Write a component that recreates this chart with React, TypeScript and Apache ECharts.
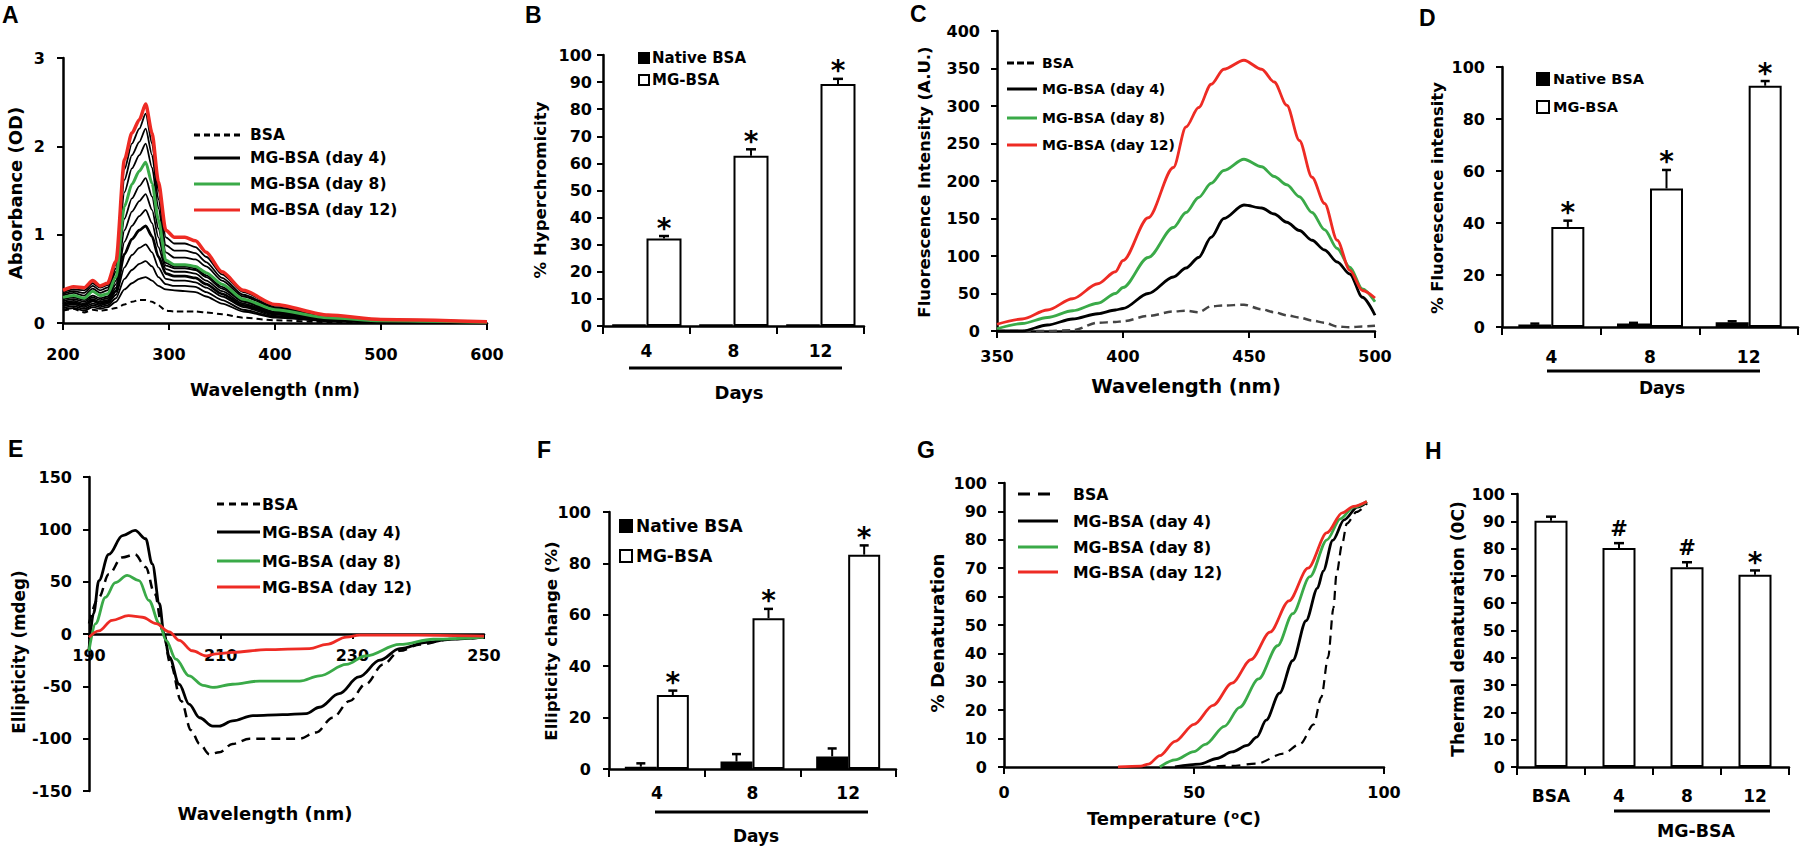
import React, { useEffect, useRef } from "react";
import * as echarts from "echarts";

const FONT = "DejaVu Sans";
const LETTER_FONT = "Liberation Sans";
const RED = "#ee2b24";
const GREEN = "#3aaa48";

// ---------- Panel A : UV absorbance ----------
const aWavelengths = [200, 210, 220, 228, 235, 242, 250, 258, 265, 272, 278, 284, 290, 297, 305, 315, 325, 335, 350, 370, 400, 450, 500, 600];
const aBsa = [0.14, 0.16, 0.12, 0.15, 0.14, 0.15, 0.17, 0.21, 0.24, 0.26, 0.26, 0.24, 0.2, 0.14, 0.13, 0.13, 0.13, 0.12, 0.1, 0.06, 0.03, 0.01, 0.005, 0.0];
const aTrace1 = [0.15, 0.17, 0.14, 0.18, 0.16, 0.18, 0.24, 0.38, 0.45, 0.5, 0.52, 0.48, 0.42, 0.38, 0.37, 0.36, 0.35, 0.3, 0.22, 0.13, 0.06, 0.02, 0.01, 0.0];
const aTrace2 = [0.17, 0.19, 0.16, 0.2, 0.18, 0.2, 0.28, 0.5, 0.6, 0.67, 0.7, 0.64, 0.52, 0.44, 0.42, 0.42, 0.41, 0.35, 0.26, 0.15, 0.07, 0.025, 0.01, 0.0];
const aTrace3 = [0.19, 0.21, 0.18, 0.22, 0.2, 0.22, 0.32, 0.63, 0.77, 0.85, 0.89, 0.8, 0.63, 0.5, 0.48, 0.48, 0.46, 0.4, 0.3, 0.18, 0.08, 0.03, 0.01, 0.0];
const aTrace4 = [0.21, 0.23, 0.2, 0.25, 0.22, 0.24, 0.36, 0.78, 0.95, 1.05, 1.1, 0.98, 0.75, 0.56, 0.53, 0.53, 0.51, 0.44, 0.33, 0.2, 0.1, 0.035, 0.015, 0.0];
const aTrace5 = [0.23, 0.25, 0.22, 0.27, 0.24, 0.26, 0.4, 0.92, 1.1, 1.21, 1.28, 1.13, 0.86, 0.61, 0.58, 0.58, 0.56, 0.48, 0.36, 0.22, 0.11, 0.04, 0.015, 0.0];
const aTrace6 = [0.25, 0.27, 0.24, 0.29, 0.26, 0.28, 0.44, 1.05, 1.26, 1.38, 1.46, 1.28, 0.97, 0.65, 0.62, 0.62, 0.6, 0.52, 0.39, 0.24, 0.12, 0.045, 0.02, 0.005];
const aTrace7 = [0.27, 0.29, 0.26, 0.31, 0.28, 0.3, 0.48, 1.18, 1.41, 1.55, 1.64, 1.43, 1.07, 0.68, 0.64, 0.64, 0.62, 0.54, 0.41, 0.25, 0.13, 0.05, 0.02, 0.005];
const aTrace8 = [0.29, 0.31, 0.28, 0.36, 0.31, 0.33, 0.52, 1.32, 1.57, 1.72, 1.82, 1.58, 1.17, 0.71, 0.66, 0.66, 0.64, 0.57, 0.44, 0.27, 0.15, 0.06, 0.025, 0.008];
const aTrace9 = [0.31, 0.34, 0.31, 0.39, 0.34, 0.37, 0.58, 1.48, 1.75, 1.9, 2.03, 1.76, 1.3, 0.8, 0.74, 0.74, 0.72, 0.64, 0.48, 0.3, 0.17, 0.07, 0.03, 0.01];
const aTrace10 = [0.33, 0.36, 0.34, 0.42, 0.37, 0.4, 0.62, 1.62, 1.9, 2.05, 2.2, 1.9, 1.4, 0.88, 0.82, 0.82, 0.79, 0.69, 0.51, 0.32, 0.18, 0.075, 0.035, 0.012];
const aTrace11 = [0.35, 0.38, 0.37, 0.45, 0.4, 0.43, 0.66, 1.74, 2.03, 2.2, 2.37, 2.03, 1.5, 0.97, 0.9, 0.9, 0.86, 0.75, 0.55, 0.35, 0.2, 0.085, 0.04, 0.014];
const aTrace12 = [0.37, 0.41, 0.4, 0.48, 0.42, 0.45, 0.7, 1.85, 2.15, 2.3, 2.48, 2.15, 1.6, 1.05, 0.97, 0.97, 0.93, 0.8, 0.58, 0.37, 0.21, 0.09, 0.04, 0.015];

// ---------- Panel B : % hyperchromicity ----------
const bDays = ["4", "8", "12"];
const bNative = [0.5, 0.5, 0.5];
const bNativeErr = [0, 0, 0];
const bMg = [32.3, 62.8, 89.3];
const bMgErr = [0.9, 2.4, 1.9];
const bSig = ["*", "*", "*"];

// ---------- Panel C : fluorescence ----------
const cWavelengths = [350, 360, 370, 380, 390, 397, 400, 410, 420, 425, 430, 435, 440, 448, 455, 460, 465, 470, 475, 480, 485, 490, 495, 500];
const cBsa = [0, 0, 0, 1, 11, 12, 13, 20, 26, 27, 25, 33, 34, 35, 29, 25, 21, 18, 14, 11, 6, 5, 6, 7];
const cDay4 = [0, 0, 8, 16, 23, 28, 30, 50, 72, 84, 98, 125, 150, 168, 164, 156, 145, 134, 121, 108, 92, 76, 45, 21];
const cDay8 = [3, 10, 18, 27, 37, 50, 58, 98, 138, 158, 178, 197, 214, 229, 219, 206, 195, 179, 158, 135, 110, 85, 56, 39];
const cDay12 = [9, 16, 28, 43, 63, 79, 94, 151, 218, 272, 298, 329, 349, 361, 349, 332, 301, 254, 205, 170, 121, 81, 54, 44];

// ---------- Panel D : % fluorescence intensity ----------
const dDays = ["4", "8", "12"];
const dNative = [1.0, 1.3, 1.8];
const dNativeErr = [0.3, 0.3, 0.4];
const dMg = [38.5, 53.3, 92.8];
const dMgErr = [2.4, 7.1, 1.8];
const dSig = ["*", "*", "*"];

// ---------- Panel E : CD spectra ----------
const eBsaX = [190, 191.5, 193, 195, 197, 198.6, 200, 201.2, 202.4, 204, 205.5, 206.8, 208.3, 209.8, 211.8, 214.4, 217, 222, 224.5, 227, 229.6, 232, 234.7, 237.2, 240.3, 244.8, 250];
const eBsaY = [10, 35, 57, 73, 76, 64, 38, 3, -29, -64, -92, -105, -115, -113, -105, -100, -100, -100, -94, -80, -64, -48, -29, -16, -10, -5, -3];
const eDay4X = [190, 190.7, 191.5, 193, 195.1, 197, 198.6, 199.6, 200.7, 201.4, 202.2, 203.7, 205.2, 206.8, 208.8, 209.8, 211.8, 214.9, 219.4, 223, 225, 228, 231, 234.2, 237.2, 241.3, 244.8, 250];
const eDay4Y = [-15, 20, 51, 76, 94, 99, 91, 67, 29, 0, -22, -48, -67, -80, -88, -88, -83, -78, -77, -76, -70, -57, -41, -25, -14, -8, -5, -3];
const eDay8X = [190, 191, 192.5, 194, 195.8, 197.6, 199.1, 200.7, 201.7, 203.2, 205.2, 207.3, 208.8, 211.8, 215.9, 222, 225, 229.1, 232, 237.2, 242.3, 250];
const eDay8Y = [-16, 10, 35, 49, 56, 51, 32, 10, -6, -24, -40, -49, -51, -48, -45, -45, -40, -29, -21, -10, -5, -3];
const eDay12X = [190, 191.5, 193.5, 196, 198.1, 200.2, 202.2, 203.7, 205.7, 207.8, 209.3, 211.8, 216.9, 223.5, 226.1, 229.1, 231.1, 240, 250];
const eDay12Y = [-3, 3, 13, 17.5, 16, 10, 2, -6, -16, -21, -19, -17.5, -15, -14, -10, -3, -1, -1, -2];

// ---------- Panel F : ellipticity change ----------
const fDays = ["4", "8", "12"];
const fNative = [0.9, 2.9, 4.9];
const fNativeErr = [1.3, 2.9, 3.1];
const fMg = [28.8, 58.7, 83.4];
const fMgErr = [1.7, 3.6, 3.6];
const fSig = ["*", "*", "*"];

// ---------- Panel G : thermal denaturation curves ----------
const gBsaT = [52, 60, 66.5, 73.5, 78, 81.5, 83.5, 85.3, 86.7, 87.5, 89, 90.2, 92.8, 95.5];
const gBsaV = [0, 0.4, 1.2, 4.7, 8.2, 15, 24.6, 38.7, 56, 68, 78.6, 85.7, 89.8, 92.7];
const gDay4T = [45, 51.5, 56, 60, 64, 66.5, 69, 72.5, 76, 79.5, 82.5, 84, 86.5, 89.5, 93, 95.5];
const gDay4V = [0, 1, 3, 5.3, 7.6, 10.5, 16.5, 26, 37.5, 51.5, 63, 69, 79.8, 87, 91.5, 93.3];
const gDay8T = [41, 45, 50, 53, 58, 62, 67, 72, 76, 80.5, 85, 88.5, 92, 95.5];
const gDay8V = [0, 2.5, 5.4, 8, 14.3, 21, 31, 42.7, 54, 67, 80, 87.4, 91.5, 93.5];
const gDay12T = [30, 36, 38, 41, 45, 50, 55, 60, 65, 70, 75, 80, 85, 89, 92, 95.5];
const gDay12V = [0, 0.3, 1, 4, 9, 15, 21.7, 29.5, 37.8, 47.5, 58.5, 70, 82.5, 89.5, 91.8, 93.5];

// ---------- Panel H : thermal denaturation temperature ----------
const hCats = ["BSA", "4", "8", "12"];
const hVals = [90.2, 80.2, 73.2, 70.4];
const hErr = [1.5, 1.8, 1.8, 1.6];
const hSig = ["", "#", "#", "*"];

function pairs(xs: number[], ys: number[]) {
  return xs.map((x, i) => [x, ys[i]]);
}

const tickLabel = (margin: number, extra: any = {}) => ({
  show: true,
  color: "#000",
  fontFamily: FONT,
  fontWeight: "bold",
  fontSize: 16,
  margin,
  ...extra,
});
const axisLine = () => ({ show: true, onZero: false, lineStyle: { color: "#000", width: 2.5 } });
const axisTick = (len = 6, show = true) => ({ show, length: len, lineStyle: { color: "#000", width: 2 } });

function valueX(gi: number, min: number, max: number, interval: number, margin: number, offset = 0, tickLen = 7) {
  return {
    type: "value", gridIndex: gi, min, max, interval, position: "bottom", offset,
    axisLine: axisLine(), axisTick: axisTick(tickLen), axisLabel: tickLabel(margin),
    splitLine: { show: false },
  };
}
function catX(gi: number, data: string[], margin: number) {
  return {
    type: "category", gridIndex: gi, data,
    axisLine: axisLine(), axisTick: { show: true, length: 8, interval: 0, lineStyle: { color: "#000", width: 2 } },
    axisLabel: tickLabel(margin, { fontSize: 17, interval: 0 }),
    splitLine: { show: false },
  };
}
function valueY(gi: number, min: number, max: number, interval: number, margin: number) {
  return {
    type: "value", gridIndex: gi, min, max, interval,
    axisLine: axisLine(), axisTick: axisTick(6), axisLabel: tickLabel(margin),
    splitLine: { show: false },
  };
}

function lineS(gi: number, data: number[][], color: string, width: number, dash?: number[], smooth: any = 0.3, z = 2) {
  return {
    type: "line", xAxisIndex: gi, yAxisIndex: gi, data, showSymbol: false, symbol: "none",
    smooth, smoothMonotone: "x", silent: true, z,
    lineStyle: { color, width, type: dash ? dash : "solid" },
  };
}

function barS(gi: number, name: string, data: number[], fill: string, barW: number) {
  return {
    type: "bar", name, xAxisIndex: gi, yAxisIndex: gi, data, barWidth: barW, barGap: "0%",
    silent: true, z: 3,
    itemStyle: { color: fill, borderColor: "#000", borderWidth: 2 },
  };
}

function errS(gi: number, vals: number[], errs: number[], sigs: string[] | null, offset: number, barW: number, capW: number) {
  return {
    type: "custom", xAxisIndex: gi, yAxisIndex: gi, z: 6, silent: true,
    data: vals.map((v, i) => [i, v, errs[i]]),
    renderItem: (params: any, api: any) => {
      const i = api.value(0);
      const v = api.value(1);
      const e = api.value(2);
      const p0 = api.coord([i, v]);
      const p1 = api.coord([i, v + e]);
      const x = p0[0] + offset * barW;
      const children: any[] = [];
      if (e > 0) {
        children.push({ type: "line", shape: { x1: x, y1: p0[1], x2: x, y2: p1[1] }, style: { stroke: "#000", lineWidth: 2 } });
        children.push({ type: "line", shape: { x1: x - capW / 2, y1: p1[1], x2: x + capW / 2, y2: p1[1] }, style: { stroke: "#000", lineWidth: 2.5 } });
      }
      const s = sigs ? sigs[params.dataIndex] : "";
      if (s) {
        const star = s === "*";
        children.push({
          type: "text", x, y: p1[1] - (star ? 8 : 14),
          style: { text: s, fill: "#000", fontSize: star ? 28 : 21, fontWeight: "bold", fontFamily: FONT, align: "center", verticalAlign: "middle" },
        });
      }
      return { type: "group", children };
    },
  };
}

function txt(x: number, y: number, text: string, fs: number, opts: any = {}) {
  const { rotate, align, font, weight } = opts;
  return {
    type: "text", x, y, rotation: rotate ? Math.PI / 2 : 0, silent: true,
    style: {
      text, fill: "#000", fontSize: fs, fontWeight: weight || "bold", fontFamily: font || FONT,
      align: align || "center", verticalAlign: "middle",
    },
  };
}
function hline(x1: number, x2: number, y: number, color = "#000", width = 3, dash?: number[]) {
  return {
    type: "line", silent: true,
    shape: { x1, y1: y, x2, y2: y },
    style: { stroke: color, lineWidth: width, lineDash: dash || null },
  };
}
function lineLegend(x1: number, x2: number, tx: number, ys: number[], fs: number, dash: number[]) {
  const labels = ["BSA", "MG-BSA (day 4)", "MG-BSA (day 8)", "MG-BSA (day 12)"];
  const colors = ["#000", "#000", GREEN, RED];
  const out: any[] = [];
  ys.forEach((y, i) => {
    out.push(hline(x1, x2, y, colors[i], 3, i === 0 ? dash : undefined));
    out.push(txt(tx, y, labels[i], fs, { align: "left" }));
  });
  return out;
}
function boxLegend(x: number, size: number, tx: number, ys: number[], fs: number) {
  const labels = ["Native BSA", "MG-BSA"];
  const fills = ["#000", "#fff"];
  const out: any[] = [];
  ys.forEach((y, i) => {
    out.push({
      type: "rect", silent: true,
      shape: { x: x, y: y - size / 2, width: size, height: size },
      style: { fill: fills[i], stroke: "#000", lineWidth: 2 },
    });
    out.push(txt(tx, y, labels[i], fs, { align: "left" }));
  });
  return out;
}

function buildOption() {
  const grids = [
    { left: 63, top: 58, width: 424, height: 265 },
    { left: 603, top: 55, width: 261, height: 271 },
    { left: 997, top: 31, width: 378, height: 300 },
    { left: 1502, top: 67, width: 296, height: 260 },
    { left: 89, top: 477, width: 395, height: 314 },
    { left: 609, top: 512, width: 287, height: 257 },
    { left: 1004, top: 483, width: 380, height: 284 },
    { left: 1517, top: 494, width: 272, height: 273 },
  ].map((g) => ({ ...g, containLabel: false, outerBoundsMode: "none" }));

  const xAxis = [
    valueX(0, 200, 600, 100, 23),
    catX(1, bDays, 16),
    valueX(2, 350, 500, 50, 17),
    catX(3, dDays, 21),
    // panel E: axis drawn through y = 0 (half-way up the 314 px plot)
    valueX(4, 190, 250, 20, 13, -157, 5),
    catX(5, fDays, 15),
    valueX(6, 0, 100, 50, 17),
    catX(7, hCats, 20),
  ];
  const yAxis = [
    valueY(0, 0, 3, 1, 18),
    valueY(1, 0, 100, 10, 11),
    valueY(2, 0, 400, 50, 17),
    valueY(3, 0, 100, 20, 17),
    valueY(4, -150, 150, 50, 17),
    valueY(5, 0, 100, 20, 18),
    valueY(6, 0, 100, 10, 17),
    valueY(7, 0, 100, 10, 12),
  ];

  const aTraces = [aTrace1, aTrace2, aTrace3, aTrace4, aTrace5, aTrace6, aTrace7, aTrace9, aTrace10, aTrace11];
  const series: any[] = [];
  // A
  series.push(lineS(0, pairs(aWavelengths, aBsa), "#000", 2, [6, 4], 0.25));
  aTraces.forEach((tr) => {
    series.push(lineS(0, pairs(aWavelengths, tr), "#000", tr === aTrace4 ? 2.8 : 1.8, undefined, 0.25));
  });
  series.push(lineS(0, pairs(aWavelengths, aTrace8), GREEN, 3, undefined, 0.25, 3));
  series.push(lineS(0, pairs(aWavelengths, aTrace12), RED, 3.5, undefined, 0.25, 4));
  // B
  series.push(barS(1, "Native BSA", bNative, "#000", 35));
  series.push(barS(1, "MG-BSA", bMg, "#fff", 35));
  series.push(errS(1, bNative, bNativeErr, null, -0.5, 35, 10));
  series.push(errS(1, bMg, bMgErr, bSig, 0.5, 35, 10));
  // C
  series.push(lineS(2, pairs(cWavelengths, cBsa), "#444", 2.5, [8, 5], 0.3));
  series.push(lineS(2, pairs(cWavelengths, cDay4), "#000", 2.8, undefined, 0.3));
  series.push(lineS(2, pairs(cWavelengths, cDay8), GREEN, 2.8, undefined, 0.3));
  series.push(lineS(2, pairs(cWavelengths, cDay12), RED, 2.8, undefined, 0.3));
  // D
  series.push(barS(3, "Native BSA", dNative, "#000", 33));
  series.push(barS(3, "MG-BSA", dMg, "#fff", 33));
  series.push(errS(3, dNative, dNativeErr, null, -0.5, 33, 9));
  series.push(errS(3, dMg, dMgErr, dSig, 0.5, 33, 9));
  // E
  series.push(lineS(4, pairs(eBsaX, eBsaY), "#000", 2.5, [9, 6], 0.35));
  series.push(lineS(4, pairs(eDay4X, eDay4Y), "#000", 2.8, undefined, 0.35));
  series.push(lineS(4, pairs(eDay8X, eDay8Y), GREEN, 2.8, undefined, 0.35));
  series.push(lineS(4, pairs(eDay12X, eDay12Y), RED, 2.8, undefined, 0.35));
  // F
  series.push(barS(5, "Native BSA", fNative, "#000", 32));
  series.push(barS(5, "MG-BSA", fMg, "#fff", 32));
  series.push(errS(5, fNative, fNativeErr, null, -0.5, 32, 9));
  series.push(errS(5, fMg, fMgErr, fSig, 0.5, 32, 9));
  // G
  series.push(lineS(6, pairs(gBsaT, gBsaV), "#000", 2.2, [9, 6], 0.3));
  series.push(lineS(6, pairs(gDay4T, gDay4V), "#000", 2.8, undefined, 0.3));
  series.push(lineS(6, pairs(gDay8T, gDay8V), GREEN, 2.8, undefined, 0.3));
  series.push(lineS(6, pairs(gDay12T, gDay12V), RED, 2.8, undefined, 0.3));
  // H
  series.push(barS(7, "Thermal denaturation", hVals, "#fff", 33));
  series.push(errS(7, hVals, hErr, hSig, 0, 33, 10));

  const L = { font: LETTER_FONT, align: "left" };
  const graphic: any[] = [
    // panel letters
    txt(2, 15, "A", 23, L),
    txt(525, 15, "B", 23, L),
    txt(910, 14, "C", 23, L),
    txt(1419, 18, "D", 23, L),
    txt(8, 449, "E", 23, L),
    txt(537, 450, "F", 23, L),
    txt(917, 450, "G", 23, L),
    txt(1425, 451, "H", 23, L),
    // axis titles
    txt(15, 193, "Absorbance (OD)", 18, { rotate: true }),
    txt(275, 390, "Wavelength (nm)", 17.5),
    txt(540, 190, "% Hyperchromicity", 16.6, { rotate: true }),
    txt(924, 182, "Fluorescence Intensity (A.U.)", 16.5, { rotate: true }),
    txt(1186, 386, "Wavelength (nm)", 19.5),
    txt(1437, 198, "% Fluorescence intensity", 16.4, { rotate: true }),
    txt(19, 652, "Ellipticity (mdeg)", 16.8, { rotate: true }),
    txt(265, 813, "Wavelength (nm)", 18),
    txt(551, 641, "Ellipticity change (%)", 16.6, { rotate: true }),
    txt(937, 633, "% Denaturation", 18, { rotate: true }),
    txt(1174, 818, "Temperature (ᵒC)", 18),
    txt(1458, 629, "Thermal denaturation (0C)", 17, { rotate: true }),
    // group underlines and captions
    hline(629, 842, 368),
    txt(739, 392, "Days", 18),
    hline(1547, 1760, 371),
    txt(1662, 388, "Days", 17),
    hline(655, 868, 812),
    txt(756, 836, "Days", 17),
    hline(1614, 1770, 811),
    txt(1696, 831, "MG-BSA", 17.4),
    // legends
    ...lineLegend(194, 240, 250, [135, 158, 184, 210], 15.5, [6, 4]),
    ...boxLegend(639, 10, 652, [58, 80], 15),
    ...lineLegend(1007, 1037, 1042, [63, 89, 118, 145], 14, [7, 3]),
    ...boxLegend(1537, 12, 1553, [79, 107], 14.5),
    ...lineLegend(217, 260, 262, [504, 532, 561, 587], 15.8, [7, 5]),
    ...boxLegend(620, 12, 636, [526, 556], 17),
    ...lineLegend(1018, 1058, 1073, [494, 521, 547, 572], 15.7, [12, 8]),
  ];

  return {
    animation: false,
    backgroundColor: "#fff",
    grid: grids,
    xAxis,
    yAxis,
    series,
    graphic,
  };
}

export default function App() {
  const ref = useRef<HTMLDivElement>(null);
  useEffect(() => {
    document.body.style.margin = "0";
    const chart = echarts.init(ref.current as HTMLDivElement, null, { renderer: "svg" });
    chart.setOption(buildOption() as any);
    return () => chart.dispose();
  }, []);
  return <div ref={ref} style={{ width: 1800, height: 848, background: "#fff" }} />;
}
